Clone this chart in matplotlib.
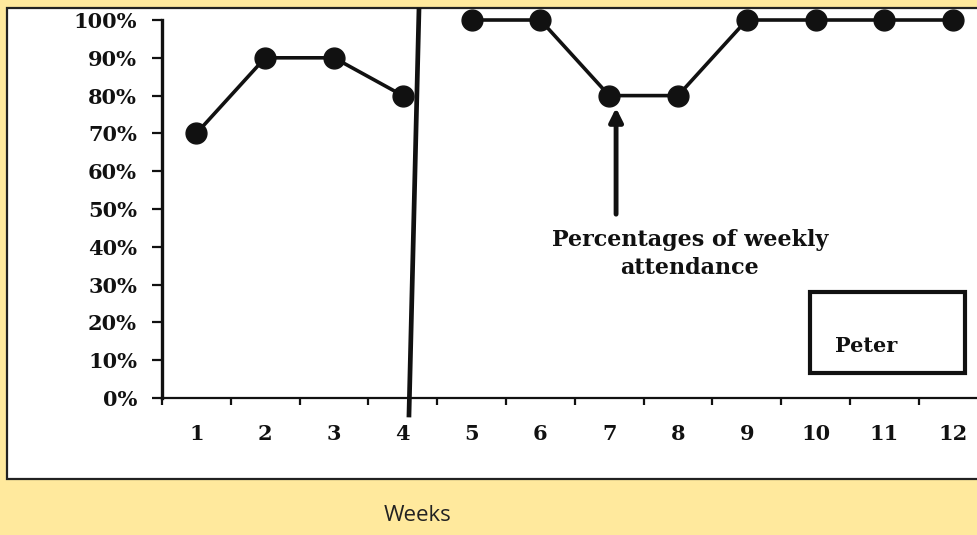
import matplotlib.pyplot as plt
from matplotlib.patches import Rectangle
import numpy as np

# ── data ─────────────────────────────────────────────
weeks_a = [1, 2, 3, 4]
attend_a = [70, 90, 90, 80]
weeks_b = [5, 6, 7, 8, 9, 10, 11, 12]
attend_b = [100, 100, 80, 80, 100, 100, 100, 100]
week_labels = [str(w) for w in range(1, 13)]
y_ticks = list(range(0, 101, 10))
y_labels = [f'{v}%' for v in y_ticks]

# ── style ───────────────────────────────────────────
BG = '#FFE99D'
INK = '#111111'
TICK_FONT = dict(family='DejaVu Serif', fontweight='bold', fontsize=15, color=INK)

fig = plt.figure(figsize=(9.77, 5.35), dpi=100)
fig.patch.set_facecolor(BG)

# white panel
fig.add_artist(Rectangle((0.0072, 0.1047), 1.0, 0.8805, transform=fig.transFigure,
                         facecolor='white', edgecolor='#222222', lw=1.6, zorder=0))

ax = fig.add_axes([0.1658, 0.2561, 0.8342, 0.7065])
ax.set_facecolor('none')
ax.set_xlim(0.5, 12.346)
ax.set_ylim(0, 100)

# series
for xs, ys in [(weeks_a, attend_a), (weeks_b, attend_b)]:
    ax.plot(xs, ys, color=INK, lw=2.6, marker='o', ms=15,
            markerfacecolor=INK, markeredgecolor=INK, clip_on=False, zorder=4)

# phase change line
ax.plot([4.235, 4.09], [102.6, -4.5], color=INK, lw=3.4, clip_on=False, zorder=5)

# arrow + label
ax.annotate('', xy=(7.1, 77.5), xytext=(7.1, 47.9),
            arrowprops=dict(arrowstyle='-|>', color=INK, lw=3.5, mutation_scale=20))
ax.text(8.17, 38.1, 'Percentages of weekly\nattendance', ha='center', va='center',
        linespacing=1.3, **{**TICK_FONT, 'fontsize': 16})

# legend box
ax.add_patch(Rectangle((0.795, 0.066), 0.19, 0.214, transform=ax.transAxes,
                       facecolor='white', edgecolor=INK, lw=3, zorder=3))
ax.text(0.826, 0.138, 'Peter', transform=ax.transAxes, ha='left', va='center',
        zorder=4, **TICK_FONT)

# axes
for s in ['top', 'right']:
    ax.spines[s].set_visible(False)
ax.spines['left'].set_linewidth(2.4)
ax.spines['bottom'].set_linewidth(1.6)
ax.spines['left'].set_color(INK)
ax.spines['bottom'].set_color(INK)

ax.set_yticks(y_ticks)
ax.set_yticklabels(y_labels, **TICK_FONT)
ax.tick_params(axis='y', length=7, width=1.6, pad=11, color=INK)

ax.set_xticks(range(1, 13))
ax.set_xticklabels(week_labels, **TICK_FONT)
ax.set_xticks(np.arange(0.5, 12.5, 1.0), minor=True)
ax.tick_params(axis='x', which='major', length=0, pad=19)
ax.tick_params(axis='x', which='minor', length=5, width=1.6, color=INK)

fig.text(0.427, 0.016, 'Weeks', ha='center', va='bottom',
         fontsize=16, family='Open Sans', color='#222222')

fig.savefig('out.png', dpi=100, facecolor=BG)
